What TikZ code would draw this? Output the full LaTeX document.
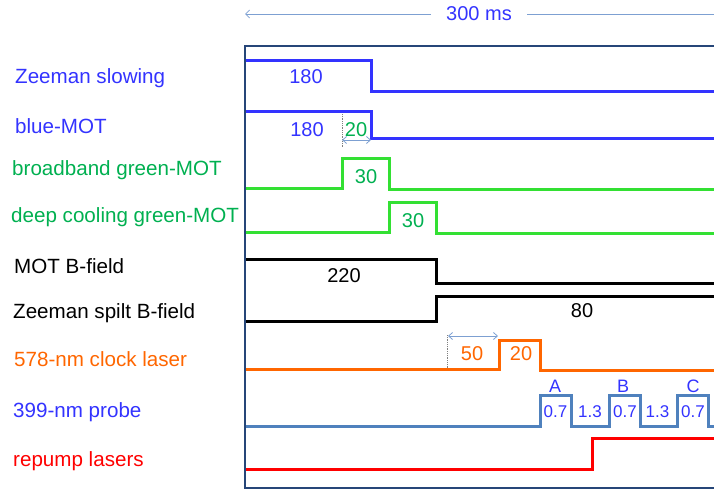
\documentclass[tikz,border=0pt]{standalone}
\usepackage{fontspec}
\setmainfont{Liberation Sans}
\usetikzlibrary{arrows.meta}
\definecolor{txtblue}{RGB}{51,51,255}
\definecolor{txtgreen}{RGB}{0,176,80}
\definecolor{siggreen}{RGB}{51,224,51}
\definecolor{sigorange}{RGB}{255,102,0}
\definecolor{sigsteel}{RGB}{79,129,189}
\definecolor{framenavy}{RGB}{38,70,120}
\definecolor{dimblue}{RGB}{125,160,210}

\begin{document}
\begin{tikzpicture}[
    x=1pt, y=-1pt,
    chan/.style={
        anchor=base west,
        inner sep=0pt,
        font=\fontsize{20.6}{24}\selectfont
    },
    dur/.style={
        anchor=base,
        inner sep=0pt,
        font=\fontsize{20}{24}\selectfont
    },
    pdur/.style={
        anchor=base,
        inner sep=0pt,
        text=txtblue,
        font=\fontsize{17}{20}\selectfont
    },
    sig/.style={line width=3pt},
    marker/.style={densely dotted, draw=gray, line width=0.8pt},
    span/.style={{Straight Barb[length=4pt,width=7pt]}-{Straight Barb[length=4pt,width=7pt]}, draw=dimblue, line width=0.8pt},
    frame/.style={draw=framenavy, line width=2.2pt}
]
\useasboundingbox (0,0) rectangle (714,490);

\node[text=txtblue, font=\fontsize{20}{24}\selectfont, inner xsep=15pt] (total) at (479,14) {300 ms};
\coordinate (t0) at (245,14);
\coordinate (t1) at (714,14);
\draw[draw=dimblue, line width=0.8pt, -{Straight Barb[length=4pt,width=8pt]}] (total) -- (t0);
\draw[draw=dimblue, line width=0.8pt] (total) -- (t1);

\node[chan, text=txtblue] (zs) at (15,83) {Zeeman slowing};
\node[chan, text=txtblue] (bmot) at (15,133) {blue-MOT};
\node[chan, text=txtgreen] (bbgm) at (12,175) {broadband green-MOT};
\node[chan, text=txtgreen] (dcgm) at (11,222) {deep cooling green-MOT};
\node[chan] (motb) at (14,273) {MOT B-field};
\node[chan] (zsb) at (13,318) {Zeeman spilt B-field};
\node[chan, text=sigorange] (clock) at (14,366) {578-nm clock laser};
\node[chan, text=txtblue] (probe) at (13,417) {399-nm probe};
\node[chan, text=red] (repump) at (13,466) {repump lasers};

\draw[sig, draw=txtblue] (245,60) -| (371,91) -- (714,91);
\draw[sig, draw=txtblue] (245,111) -| (371,138) -- (714,138);
\draw[sig, draw=siggreen] (245,188) -| (342,158) -| (389,189) -- (714,189);
\draw[sig, draw=siggreen] (245,232) -| (389,202) -| (436,233) -- (714,233);
\draw[sig, draw=black] (245,259) -| (436,283) -- (714,283);
\draw[sig, draw=black] (245,321) -| (436,296) -- (714,296);
\draw[sig, draw=sigorange] (245,369) -| (499,340) -| (540,370) -- (714,370);
\draw[sig, draw=sigsteel] (245,426) -| (540,395) -| (571,426) -| (609,395) -| (640,426) -| (677,395) -| (708,426) -- (714,426);
\draw[sig, draw=red] (245,469) -| (592,438) -- (714,438);

\node[dur, text=txtblue] (zs180) at (306,83) {180};
\node[dur, text=txtblue] (bm180) at (307,136) {180};
\node[dur, text=txtgreen] (bm20) at (356,136) {20};
\node[dur, text=txtgreen] (bb30) at (366,183) {30};
\node[dur, text=txtgreen] (dc30) at (413,227) {30};
\node[dur] (mb220) at (344,282) {220};
\node[dur] (zb80) at (582,317) {80};
\node[dur, text=sigorange] (cl50) at (472,360) {50};
\node[dur, text=sigorange] (cl20) at (521,360) {20};

\node[pdur, font=\fontsize{18}{20}\selectfont] (pa) at (555,392) {A};
\node[pdur, font=\fontsize{18}{20}\selectfont] (pb) at (623,392) {B};
\node[pdur, font=\fontsize{18}{20}\selectfont] (pc) at (693,392) {C};
\node[pdur] (pa07) at (555.5,417) {0.7};
\node[pdur] (ab13) at (590,417) {1.3};
\node[pdur] (pb07) at (625,417) {0.7};
\node[pdur] (bc13) at (657.5,417) {1.3};
\node[pdur] (pc07) at (693,417) {0.7};

\coordinate (bmm0) at (342,114);
\coordinate (bmm1) at (342,147);
\coordinate (bms0) at (342,140);
\coordinate (bms1) at (371,140);
\draw[marker] (bmm0) -- (bmm1);
\draw[span] (bms0) -- (bms1);

\coordinate (clm0) at (447,335);
\coordinate (clm1) at (447,368);
\coordinate (cls0) at (448,336);
\coordinate (cls1) at (498,336);
\draw[marker] (clm0) -- (clm1);
\draw[span] (cls0) -- (cls1);

\draw[frame] (714,46) -- (245,46) -- (245,488) -- (714,488);
\end{tikzpicture}
\end{document}
